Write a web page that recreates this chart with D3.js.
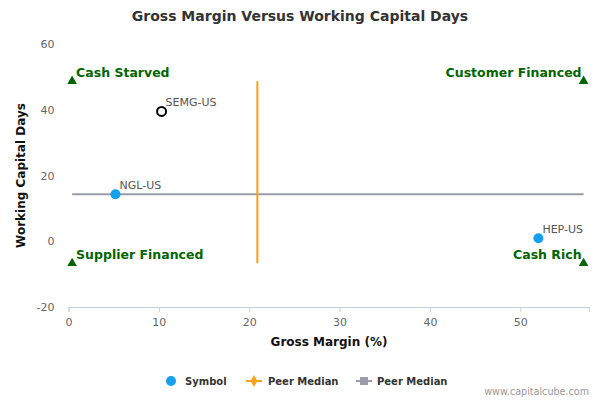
<!DOCTYPE html>
<html>
<head>
<meta charset="utf-8">
<script src="https://cdn.jsdelivr.net/npm/d3@7"></script>
<style>
  body { margin: 0; background: #fff; }
  svg { font-family: "DejaVu Sans", sans-serif; display: block; }
</style>
</head>
<body>
<div id="viz-container"></div>
<script>
// values
const symbols = ["SEMG-US", "NGL-US", "HEP-US"];
const grossMargin = [10.3, 5.2, 52.0];
const wcDays = [39.5, 14.3, 0.9];
const hollow = [true, false, false];

const peerMedianMargin = 20.9;
const peerMedianDays = 14.3;

// quadrant corners (x, y) and their labels
const quadLabels = ["Cash Starved", "Customer Financed", "Supplier Financed", "Cash Rich"];
const quadX = [0.4, 57.0, 0.4, 57.0];
const quadY = [48.7, 48.7, -6.7, -6.7];

const xTicks = [0, 10, 20, 30, 40, 50];
const yTicks = [-20, 0, 20, 40, 60];

const width = 600, height = 400;

const svg = d3.select("#viz-container")
    .append("svg")
    .attr("width", width)
    .attr("height", height);

const x = d3.scaleLinear().domain([0, 57.6]).range([68.5, 589]);
const y = d3.scaleLinear().domain([-20, 60]).range([307, 44]);

// title
svg.append("text")
    .attr("x", 300).attr("y", 21)
    .attr("text-anchor", "middle")
    .attr("font-size", 14).attr("font-weight", "bold")
    .attr("fill", "#333")
    .text("Gross Margin Versus Working Capital Days");

// x axis
const xAxis = svg.append("g")
    .attr("transform", `translate(0,${y(-20)})`)
    .call(d3.axisBottom(x).tickValues(xTicks).tickFormat(d => String(d)).tickSize(5).tickPadding(6));
xAxis.select(".domain").attr("stroke", "#C0D0E0");
xAxis.selectAll(".tick line").attr("stroke", "#C0D0E0");
xAxis.selectAll(".tick text").attr("fill", "#666").attr("font-size", 11)
    .attr("font-family", "DejaVu Sans, sans-serif");

// y axis (labels only)
const yAxis = svg.append("g")
    .attr("transform", `translate(${x(0) - 14},0)`)
    .call(d3.axisLeft(y).tickValues(yTicks).tickFormat(d => String(d)).tickSize(0).tickPadding(0));
yAxis.select(".domain").remove();
yAxis.selectAll(".tick text").attr("fill", "#666").attr("font-size", 11)
    .attr("font-family", "DejaVu Sans, sans-serif");

// axis titles
svg.append("text")
    .attr("x", 329).attr("y", 346)
    .attr("text-anchor", "middle")
    .attr("font-size", 12).attr("font-weight", "bold").attr("fill", "#111")
    .text("Gross Margin (%)");

svg.append("text")
    .attr("transform", `translate(25,${(y(60) + y(-20)) / 2}) rotate(-90)`)
    .attr("text-anchor", "middle")
    .attr("font-size", 12).attr("font-weight", "bold").attr("fill", "#111")
    .text("Working Capital Days");

// peer median lines
svg.append("line")
    .attr("x1", x(d3.min(quadX))).attr("x2", x(d3.max(quadX)))
    .attr("y1", y(peerMedianDays)).attr("y2", y(peerMedianDays))
    .attr("stroke", "#9A9DA8").attr("stroke-width", 2);

svg.append("line")
    .attr("x1", x(peerMedianMargin)).attr("x2", x(peerMedianMargin))
    .attr("y1", y(d3.max(quadY))).attr("y2", y(d3.min(quadY)))
    .attr("stroke", "#F9A11B").attr("stroke-width", 2);

// quadrant markers + labels
const tri = d3.symbol().type(d3.symbolTriangle).size(40);
const quads = svg.append("g").selectAll("g")
    .data(quadLabels)
    .join("g")
    .attr("transform", (d, i) => `translate(${x(quadX[i])},${y(quadY[i])})`);
quads.append("path").attr("d", tri).attr("fill", "#006400");
quads.append("text")
    .attr("x", (d, i) => i % 2 === 0 ? 4 : -2)
    .attr("y", -4)
    .attr("text-anchor", (d, i) => i % 2 === 0 ? "start" : "end")
    .attr("font-size", 12.5).attr("font-weight", "bold").attr("fill", "#006400")
    .text(d => d);

// symbols
const pts = svg.append("g").selectAll("g")
    .data(symbols)
    .join("g")
    .attr("transform", (d, i) => `translate(${x(grossMargin[i])},${y(wcDays[i])})`);
pts.append("circle")
    .attr("r", (d, i) => hollow[i] ? 4.5 : 5)
    .attr("fill", (d, i) => hollow[i] ? "#fff" : "#12A0F0")
    .attr("stroke", (d, i) => hollow[i] ? "#000" : "none")
    .attr("stroke-width", 2);
pts.append("text")
    .attr("x", 4).attr("y", -5)
    .attr("font-size", 11).attr("fill", "#555")
    .text(d => d);

// legend
const legend = svg.append("g").attr("font-size", 10).attr("font-weight", "bold").attr("fill", "#333");
legend.append("circle").attr("cx", 171).attr("cy", 381).attr("r", 5).attr("fill", "#12A0F0");
legend.append("text").attr("x", 185).attr("y", 385).text("Symbol");

legend.append("line").attr("x1", 246).attr("x2", 262).attr("y1", 381).attr("y2", 381)
    .attr("stroke", "#F9A11B").attr("stroke-width", 2);
legend.append("path").attr("transform", "translate(254,381)")
    .attr("d", d3.symbol().type(d3.symbolDiamond).size(40)).attr("fill", "#F9A11B");
legend.append("text").attr("x", 268).attr("y", 385).text("Peer Median");

legend.append("line").attr("x1", 356).attr("x2", 372).attr("y1", 381).attr("y2", 381)
    .attr("stroke", "#9A9DA8").attr("stroke-width", 2);
legend.append("rect").attr("x", 360).attr("y", 377).attr("width", 8).attr("height", 8).attr("fill", "#9A9DA8");
legend.append("text").attr("x", 377).attr("y", 385).text("Peer Median");

// credits
svg.append("text")
    .attr("x", 589).attr("y", 395)
    .attr("text-anchor", "end")
    .attr("font-size", 9.6).attr("fill", "#999")
    .text("www.capitalcube.com");
</script>
</body>
</html>
